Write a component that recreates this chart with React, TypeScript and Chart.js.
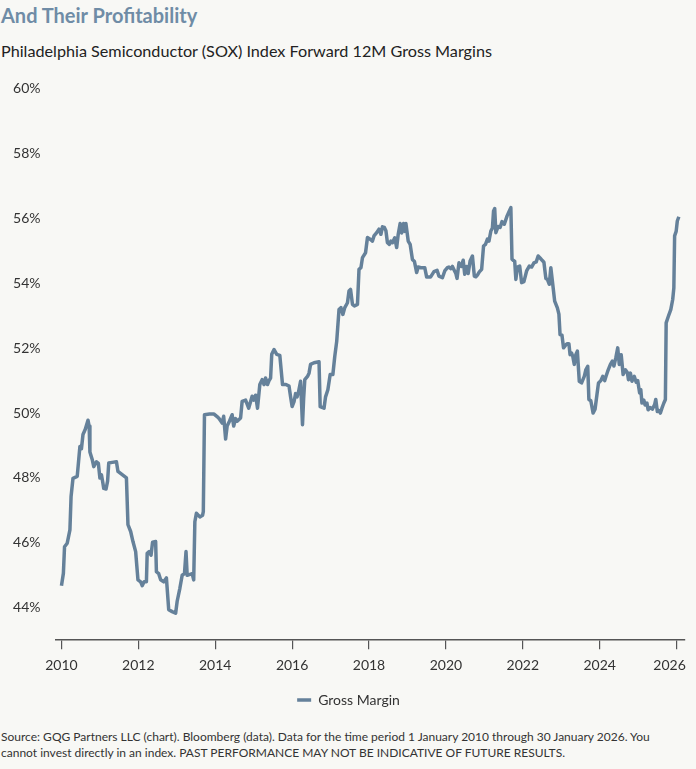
import React, { useEffect, useRef } from "react";
import { Chart, registerables } from "chart.js";

Chart.register(...registerables);

const dates: number[] = [
  2010.00, 2010.05, 2010.08, 2010.15, 2010.22, 2010.25, 2010.30, 2010.41, 2010.48, 2010.52,
  2010.56, 2010.62, 2010.69, 2010.72, 2010.74, 2010.80, 2010.84, 2010.91, 2010.96, 2011.00,
  2011.04, 2011.07, 2011.10, 2011.16, 2011.20, 2011.23, 2011.32, 2011.43, 2011.47, 2011.58,
  2011.69, 2011.73, 2011.80, 2011.86, 2011.93, 2011.99, 2012.06, 2012.10, 2012.15, 2012.21,
  2012.23, 2012.28, 2012.33, 2012.37, 2012.45, 2012.47, 2012.53, 2012.58, 2012.66, 2012.73,
  2012.79, 2012.88, 2012.97, 2013.01, 2013.08, 2013.14, 2013.20, 2013.24, 2013.27, 2013.40,
  2013.44, 2013.47, 2013.51, 2013.60, 2013.67, 2013.69, 2013.72, 2013.85, 2013.97, 2014.04,
  2014.10, 2014.18, 2014.22, 2014.27, 2014.31, 2014.37, 2014.44, 2014.48, 2014.53, 2014.57,
  2014.66, 2014.70, 2014.79, 2014.87, 2014.96, 2015.00, 2015.05, 2015.10, 2015.16, 2015.22,
  2015.27, 2015.31, 2015.36, 2015.40, 2015.44, 2015.47, 2015.53, 2015.60, 2015.68, 2015.75,
  2015.84, 2015.92, 2015.96, 2016.00, 2016.05, 2016.09, 2016.13, 2016.17, 2016.22, 2016.27,
  2016.30, 2016.33, 2016.40, 2016.44, 2016.48, 2016.57, 2016.70, 2016.73, 2016.83, 2016.87,
  2016.93, 2016.99, 2017.06, 2017.11, 2017.16, 2017.22, 2017.27, 2017.32, 2017.37, 2017.44,
  2017.48, 2017.52, 2017.57, 2017.62, 2017.70, 2017.74, 2017.79, 2017.83, 2017.91, 2017.96,
  2018.03, 2018.09, 2018.13, 2018.20, 2018.26, 2018.31, 2018.35, 2018.40, 2018.44, 2018.48,
  2018.53, 2018.57, 2018.61, 2018.67, 2018.72, 2018.76, 2018.81, 2018.85, 2018.90, 2018.93,
  2018.96, 2019.02, 2019.07, 2019.13, 2019.18, 2019.24, 2019.28, 2019.35, 2019.45, 2019.50,
  2019.60, 2019.69, 2019.77, 2019.82, 2019.91, 2019.97, 2020.04, 2020.08, 2020.13, 2020.17,
  2020.21, 2020.26, 2020.29, 2020.34, 2020.40, 2020.45, 2020.49, 2020.54, 2020.58, 2020.63,
  2020.69, 2020.74, 2020.78, 2020.82, 2020.87, 2020.93, 2020.98, 2021.03, 2021.08, 2021.12,
  2021.17, 2021.21, 2021.24, 2021.27, 2021.30, 2021.36, 2021.41, 2021.46, 2021.52, 2021.59,
  2021.65, 2021.69, 2021.72, 2021.76, 2021.79, 2021.82, 2021.86, 2021.92, 2021.97, 2022.03,
  2022.10, 2022.17, 2022.23, 2022.29, 2022.35, 2022.40, 2022.45, 2022.51, 2022.55, 2022.60,
  2022.64, 2022.69, 2022.73, 2022.77, 2022.83, 2022.90, 2022.94, 2022.97, 2023.02, 2023.06,
  2023.12, 2023.16, 2023.20, 2023.23, 2023.27, 2023.30, 2023.34, 2023.38, 2023.42, 2023.47,
  2023.53, 2023.60, 2023.64, 2023.69, 2023.72, 2023.77, 2023.83, 2023.88, 2023.93, 2023.97,
  2024.03, 2024.08, 2024.13, 2024.17, 2024.21, 2024.28, 2024.33, 2024.37, 2024.42, 2024.47,
  2024.51, 2024.56, 2024.61, 2024.67, 2024.72, 2024.75, 2024.80, 2024.84, 2024.90, 2024.95,
  2024.99, 2025.04, 2025.07, 2025.10, 2025.15, 2025.18, 2025.23, 2025.26, 2025.31, 2025.37,
  2025.43, 2025.46, 2025.50, 2025.54, 2025.58, 2025.62, 2025.67, 2025.71, 2025.73, 2025.79,
  2025.85, 2025.90, 2025.93, 2025.95, 2025.99, 2026.02, 2026.06,
];

const grossMargin: number[] = [
  44.68, 45.06, 45.88, 45.99, 46.40, 47.43, 47.99, 48.05, 48.97, 48.90,
  49.34, 49.50, 49.78, 49.60, 48.80, 48.57, 48.35, 48.50, 48.45, 48.00,
  48.10, 47.90, 47.68, 47.66, 47.90, 48.46, 48.48, 48.50, 48.20, 48.10,
  48.00, 46.56, 46.35, 46.04, 45.73, 44.86, 44.80, 44.68, 44.80, 44.80,
  45.68, 45.73, 45.62, 46.02, 46.04, 45.11, 45.05, 44.86, 44.80, 44.92,
  43.94, 43.88, 43.83, 44.20, 44.60, 45.00, 45.05, 45.73, 45.00, 45.05,
  44.86, 46.65, 46.91, 46.80, 46.85, 46.96, 49.95, 49.97, 49.97, 49.90,
  49.83, 49.69, 49.90, 49.20, 49.60, 49.75, 49.95, 49.60, 49.83, 49.75,
  49.85, 50.36, 50.40, 50.15, 50.52, 50.40, 50.55, 50.15, 50.88, 51.03,
  50.88, 51.08, 50.88, 51.00, 51.08, 51.81, 51.96, 51.81, 51.78, 50.88,
  50.88, 50.83, 50.50, 50.20, 50.35, 50.60, 50.50, 50.67, 50.98, 49.64,
  50.45, 51.03, 51.13, 51.23, 51.50, 51.55, 51.58, 50.20, 50.15, 50.50,
  50.72, 51.19, 51.19, 51.75, 52.21, 53.19, 53.25, 53.04, 53.25, 53.40,
  53.76, 53.81, 53.35, 53.30, 53.35, 54.43, 54.48, 54.79, 54.94, 55.41,
  55.36, 55.30, 55.46, 55.56, 55.67, 55.51, 55.74, 55.72, 55.62, 55.25,
  55.20, 55.30, 55.25, 55.40, 55.10, 55.51, 55.84, 55.55, 55.84, 55.60,
  55.84, 55.30, 55.20, 54.73, 54.68, 54.33, 54.50, 54.48, 54.48, 54.19,
  54.19, 54.36, 54.40, 54.22, 54.17, 54.38, 54.48, 54.50, 54.45, 54.52,
  54.42, 54.30, 54.15, 54.63, 54.52, 54.71, 54.28, 54.52, 54.30, 54.69,
  54.84, 54.22, 54.20, 54.25, 54.35, 54.43, 55.15, 55.20, 55.36, 55.30,
  55.61, 55.70, 56.23, 56.30, 55.56, 55.75, 55.72, 55.90, 55.82, 56.07,
  56.23, 56.33, 54.74, 54.70, 54.68, 54.12, 54.50, 54.53, 54.02, 54.05,
  54.38, 54.53, 54.50, 54.63, 54.66, 54.84, 54.78, 54.70, 54.65, 54.15,
  54.12, 53.97, 54.48, 54.07, 53.45, 53.24, 53.05, 52.42, 52.40, 52.01,
  52.10, 52.14, 52.14, 51.80, 51.85, 51.75, 51.50, 51.80, 51.91, 50.98,
  50.93, 51.13, 51.33, 51.44, 50.42, 50.38, 50.00, 50.12, 50.57, 50.93,
  51.00, 51.13, 51.00, 51.15, 51.29, 51.50, 51.60, 51.45, 51.70, 52.01,
  51.50, 51.80, 51.19, 51.33, 51.25, 51.03, 51.23, 50.98, 51.13, 50.95,
  51.00, 50.62, 50.72, 50.31, 50.40, 50.25, 50.31, 50.10, 50.17, 50.12,
  50.26, 50.42, 50.05, 50.08, 50.00, 50.15, 50.31, 50.42, 52.78, 52.99,
  53.19, 53.50, 53.86, 55.46, 55.60, 55.92, 56.05,
];

const xTicks: number[] = [2010, 2012, 2014, 2016, 2018, 2020, 2022, 2024, 2026];
const yTicks: number[] = [44, 46, 48, 50, 52, 54, 56, 58, 60];

const seriesLabel = "Gross Margin";
const titleText = "And Their Profitability";
const subtitleText = "Philadelphia Semiconductor (SOX) Index Forward 12M Gross Margins";
const sourceText =
  "Source: GQG Partners LLC (chart). Bloomberg (data). Data for the time period 1 January 2010 through 30 January 2026. You cannot invest directly in an index. PAST PERFORMANCE MAY NOT BE INDICATIVE OF FUTURE RESULTS.";

const LINE_COLOR = "#65819a";
const BG = "#f8f8f5";
const FONT = "Lato, 'Noto Sans', sans-serif";

export default function App() {
  const canvasRef = useRef<HTMLCanvasElement | null>(null);

  useEffect(() => {
    if (!canvasRef.current) return;
    const lastTick = xTicks[xTicks.length - 1];
    const chart = new Chart(canvasRef.current, {
      type: "line",
      data: {
        datasets: [
          {
            label: seriesLabel,
            data: dates.map((d, i) => ({ x: d, y: grossMargin[i] })),
            borderColor: LINE_COLOR,
            backgroundColor: LINE_COLOR,
            borderWidth: 3.5,
            pointRadius: 0,
            tension: 0,
            borderJoinStyle: "round",
            fill: false,
          },
        ],
      },
      options: {
        animation: false,
        responsive: false,
        maintainAspectRatio: false,
        layout: { padding: { top: 18.6, right: 11, left: 12, bottom: 0 } },
        plugins: {
          title: { display: false },
          tooltip: { enabled: false },
          legend: {
            display: true,
            position: "bottom",
            labels: {
              usePointStyle: true,
              pointStyle: "line",
              pointStyleWidth: 14,
              color: "#333",
              padding: 11,
              font: { family: FONT, size: 14 },
            },
          },
        },
        scales: {
          x: {
            type: "linear",
            min: 2009.845,
            max: 2026.22,
            afterBuildTicks: (axis: any) => {
              axis.ticks = xTicks.map((v) => ({ value: v }));
            },
            afterFit: (axis: any) => {
              axis.paddingLeft = 0;
              axis.paddingRight = 0;
            },
            ticks: {
              color: "#333",
              padding: 8,
              maxRotation: 0,
              autoSkip: false,
              font: { family: FONT, size: 14 },
              // last label is nudged left so it stays inside the axis line
              callback: (v: any) => (v === lastTick ? String(v) + "\u2002\u2002" : String(v)),
            },
            grid: {
              display: true,
              drawOnChartArea: false,
              drawTicks: true,
              tickLength: 9,
              color: "#555",
              lineWidth: 1.2,
            },
            border: { display: true, color: "#555", width: 1.5 },
          },
          y: {
            type: "linear",
            min: 43,
            max: 60,
            afterBuildTicks: (axis: any) => {
              axis.ticks = yTicks.map((v) => ({ value: v }));
            },
            afterFit: (axis: any) => {
              axis.width = 43.5;
              axis.paddingTop = 0;
              axis.paddingBottom = 0;
            },
            ticks: {
              color: "#333",
              padding: 15,
              font: { family: FONT, size: 14 },
              callback: (v: any) => v + "%",
            },
            grid: { display: false, drawTicks: false },
            border: { display: false },
          },
        },
      },
    });
    return () => chart.destroy();
  }, []);

  return (
    <div
      style={{
        position: "absolute",
        left: 0,
        top: 0,
        width: 696,
        height: 769,
        background: BG,
        fontFamily: FONT,
        overflow: "hidden",
      }}
    >
      <div
        style={{
          position: "absolute",
          left: 1,
          top: 3,
          fontSize: 20,
          fontWeight: 700,
          color: "#6f8ca6",
          lineHeight: "24px",
          whiteSpace: "nowrap",
        }}
      >
        {titleText}
      </div>
      <div
        style={{
          position: "absolute",
          left: 1,
          top: 41,
          fontSize: 16.2,
          color: "#222",
          lineHeight: "20px",
          whiteSpace: "nowrap",
        }}
      >
        {subtitleText}
      </div>
      <canvas
        ref={canvasRef}
        width={696}
        height={647}
        style={{ position: "absolute", left: 0, top: 70, width: 696, height: 647 }}
      />
      <div
        style={{
          position: "absolute",
          left: 1,
          top: 729,
          width: 680,
          fontSize: 12,
          color: "#333",
          lineHeight: "16px",
        }}
      >
        {sourceText}
      </div>
    </div>
  );
}
